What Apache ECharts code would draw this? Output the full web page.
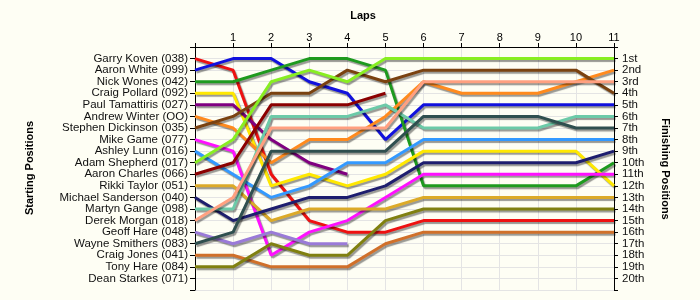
<!DOCTYPE html>
<html><head><meta charset="utf-8">
<script src="https://cdn.jsdelivr.net/npm/echarts@6/dist/echarts.min.js"></script>
<style>html,body{margin:0;padding:0;background:#fefef4;}#c{width:700px;height:300px;}</style>
</head><body><div id="c"></div>
<script>
const startNames = ['Garry Koven (038)','Aaron White (099)','Nick Wones (042)','Craig Pollard (092)','Paul Tamattiris (027)','Andrew Winter (OO)','Stephen Dickinson (035)','Mike Game (077)','Ashley Lunn (016)','Adam Shepherd (017)','Aaron Charles (066)','Rikki Taylor (051)','Michael Sanderson (040)','Martyn Gange (098)','Derek Morgan (018)','Geoff Hare (048)','Wayne Smithers (083)','Craig Jones (041)','Tony Hare (084)','Dean Starkes (071)'];
const finishLabels = ['1st','2nd','3rd','4th','5th','6th','7th','8th','9th','10th','11th','12th','13th','14th','15th','16th','17th','18th','19th','20th'];
const lapTicks = [1,2,3,4,5,6,7,8,9,10,11];

const garryKoven       = [1,2,11,15,16,16,15,15,15,15,15,15];
const aaronWhite       = [2,1,1,3,4,8,5,5,5,5,5,5];
const nickWones        = [3,3,2,1,1,2,12,12,12,12,12,10];
const craigPollard     = [4,4,12,11,12,11,9,9,9,9,9,12];
const paulTamattiris   = [5,5,8,10,11];
const andrewWinter     = [6,7,10,8,8,6,3,4,4,4,3,2];
const stephenDickinson = [7,6,4,4,2,3,2,2,2,2,2,4];
const mikeGame         = [8,9,18,16,15,13,11,11,11,11,11,11];
const ashleyLunn       = [9,11,13,12,10,10,8,8,8,8,8,8];
const adamShepherd     = [10,8,3,2,3,1,1,1,1,1,1,1];
const aaronCharles     = [11,10,5,5,5,4];
const rikkiTaylor      = [12,12,15,14,14,14,13,13,13,13,13,13];
const michaelSanderson = [13,15,14,13,13,12,10,10,10,10,10,9];
const martynGange      = [14,14,6,6,6,5,7,7,7,7,6,6];
const derekMorgan      = [15,13,7,7,7,7,3,3,3,3,3,3];
const geoffHare        = [16,17,16,17,17];
const wayneSmithers    = [17,16,9,9,9,9,6,6,6,6,7,7];
const craigJones       = [18,18,19,19,19,17,16,16,16,16,16,16];
const tonyHare         = [19,19,17,18,18,15,14,14,14,14,14,14];

const seriesList = [
  [startNames[0], garryKoven, '#ee1111'],
  [startNames[1], aaronWhite, '#1111dd'],
  [startNames[2], nickWones, '#1e9a1e'],
  [startNames[3], craigPollard, '#ffe800'],
  [startNames[4], paulTamattiris, '#800080'],
  [startNames[5], andrewWinter, '#ff8a1e'],
  [startNames[6], stephenDickinson, '#7a4210'],
  [startNames[7], mikeGame, '#ff10ff'],
  [startNames[8], ashleyLunn, '#3399ff'],
  [startNames[9], adamShepherd, '#88ee22'],
  [startNames[10], aaronCharles, '#8b0000'],
  [startNames[11], rikkiTaylor, '#dcaa28'],
  [startNames[12], michaelSanderson, '#1e1e6e'],
  [startNames[13], martynGange, '#6ccaa8'],
  [startNames[14], derekMorgan, '#ffa080'],
  [startNames[15], geoffHare, '#9a7ad8'],
  [startNames[16], wayneSmithers, '#2f4f4f'],
  [startNames[17], craigJones, '#d0702a'],
  [startNames[18], tonyHare, '#808010']
];

const chart = echarts.init(document.getElementById('c'), null, {renderer:'canvas'});
const font = 'Liberation Sans, Arial, sans-serif';
const gridLine = {show:true, lineStyle:{color:'#e4e4e4', width:1}};
const option = {
  backgroundColor:'#fefef4',
  animation:false,
  grid:{left:195, right:86, top:47, bottom:10, containLabel:false},
  graphic:[
    {type:'text', x:363, y:16, style:{text:'Laps', font:'bold 11px '+font, fill:'#000', textAlign:'center', textVerticalAlign:'middle'}},
    {type:'text', x:30, y:168, rotation:Math.PI/2, style:{text:'Starting Positions', font:'bold 11px '+font, fill:'#000', textAlign:'center', textVerticalAlign:'middle'}},
    {type:'text', x:665, y:169, rotation:-Math.PI/2, style:{text:'Finishing Positions', font:'bold 11px '+font, fill:'#000', textAlign:'center', textVerticalAlign:'middle'}}
  ],
  xAxis:{type:'value', position:'top', min:0, max:11, interval:1,
    axisLine:{show:true, lineStyle:{color:'#000', width:1}},
    axisTick:{show:true, length:4, lineStyle:{color:'#000'}},
    axisLabel:{color:'#000', fontSize:11, fontFamily:font, margin:4,
      formatter:v => lapTicks.indexOf(v) >= 0 ? String(v) : ''},
    splitLine:gridLine},
  yAxis:[
    {type:'value', position:'left', inverse:true, min:0, max:21, interval:1,
      axisLine:{show:true, lineStyle:{color:'#000', width:1}},
      axisTick:{show:true, length:5, lineStyle:{color:'#000'}},
      axisLabel:{color:'#111', fontSize:11.5, fontFamily:font, margin:7,
        formatter:v => (v>=1 && v<=20) ? startNames[v-1] : ''},
      splitLine:gridLine},
    {type:'value', position:'right', inverse:true, min:0, max:21, interval:1,
      axisLine:{show:true, lineStyle:{color:'#000', width:1}},
      axisTick:{show:true, length:4, lineStyle:{color:'#000'}},
      axisLabel:{color:'#111', fontSize:11.5, fontFamily:font, margin:8,
        formatter:v => (v>=1 && v<=20) ? finishLabels[v-1] : ''},
      splitLine:{show:false}}
  ],
  series: seriesList.map(([name, arr, color]) => ({
    name, type:'line', yAxisIndex:0, symbol:'none', showSymbol:false,
    data: arr.map((p,i)=>[i,p]),
    lineStyle:{color, width:3, shadowColor:'rgba(0,0,0,0.4)', shadowBlur:1, shadowOffsetX:1.5, shadowOffsetY:2},
    itemStyle:{color}
  }))
};
chart.setOption(option);
</script></body></html>
